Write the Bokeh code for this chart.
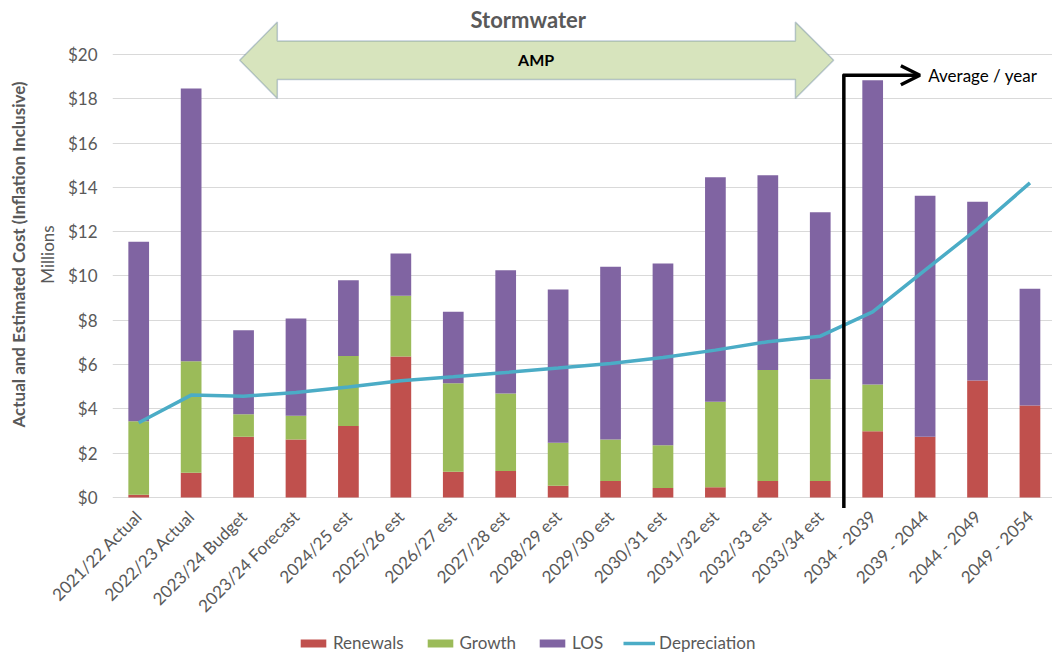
from math import pi
from bokeh.plotting import figure
from bokeh.layouts import column
from bokeh.models import (ColumnDataSource, FixedTicker, NumeralTickFormatter, Legend,
                          LegendItem, Label, Title, PolyAnnotation, Arrow, OpenHead, Range1d)
from bokeh.embed import file_html
from bokeh.resources import INLINE

categories = ["2021/22 Actual", "2022/23 Actual", "2023/24 Budget", "2023/24 Forecast",
              "2024/25 est", "2025/26 est", "2026/27 est", "2027/28 est", "2028/29 est",
              "2029/30 est", "2030/31 est", "2031/32 est", "2032/33 est", "2033/34 est",
              "2034 - 2039", "2039 - 2044", "2044 - 2049", "2049 - 2054"]
renewals = [0.12, 1.11, 2.74, 2.62, 3.22, 6.36, 1.16, 1.19, 0.53, 0.74, 0.42, 0.46, 0.74, 0.74,
            2.99, 2.74, 5.28, 4.15]
growth = [3.32, 5.04, 1.02, 1.07, 3.16, 2.74, 3.99, 3.50, 1.94, 1.88, 1.93, 3.86, 5.01, 4.59,
          2.11, 0.0, 0.0, 0.0]
los = [8.10, 12.31, 3.79, 4.39, 3.43, 1.91, 3.23, 5.57, 6.92, 7.79, 8.21, 10.13, 8.80, 7.54,
       13.74, 10.88, 8.07, 5.27]
depreciation = [3.37, 4.62, 4.57, 4.74, 4.99, 5.27, 5.45, 5.64, 5.84, 6.05, 6.32, 6.65, 7.03,
                7.28, 8.38, 10.26, 12.14, 14.20]
y_ticks = [0, 2, 4, 6, 8, 10, 12, 14, 16, 18, 20]
series = ["Renewals", "Growth", "LOS"]
colors = ["#C0504D", "#9BBB59", "#8064A2"]
line_color = "#4BACC6"

FONT = "Lato"
GREY = "#595959"

xs = list(range(len(categories)))
src = ColumnDataSource(dict(x=xs, Renewals=renewals, Growth=growth, LOS=los, Depreciation=depreciation))

p = figure(width=1052, height=630, x_range=Range1d(-0.5, 17.43), y_range=Range1d(-0.5, 22.435),
           output_backend="svg", toolbar_location=None,
           min_border_top=0, min_border_right=0, min_border_left=112, min_border_bottom=122)
p.outline_line_color = None
p.background_fill_color = "white"

bars = p.vbar_stack(series, x="x", width=0.395, source=src, color=colors, line_color=None)
ln = p.line("x", "Depreciation", source=src, line_color=line_color, line_width=3.5)

# axes
p.xaxis.ticker = FixedTicker(ticks=xs)
p.xaxis.major_label_overrides = {i: c for i, c in enumerate(categories)}
p.xaxis.major_label_orientation = pi / 4
p.xaxis.axis_line_color = None
p.xaxis.major_tick_line_color = None
p.xaxis.minor_tick_line_color = None
p.xaxis.major_tick_out = 0
p.xaxis.major_tick_in = 0
p.xaxis.major_label_text_font = FONT
p.xaxis.major_label_text_font_size = "17px"
p.xaxis.major_label_text_color = GREY
p.xaxis.major_label_standoff = 5

p.yaxis.ticker = FixedTicker(ticks=y_ticks)
p.yaxis.formatter = NumeralTickFormatter(format="$0")
p.yaxis.axis_line_color = None
p.yaxis.major_tick_line_color = None
p.yaxis.minor_tick_line_color = None
p.yaxis.major_tick_out = 0
p.yaxis.major_tick_in = 0
p.yaxis.major_label_text_font = FONT
p.yaxis.major_label_text_font_size = "17px"
p.yaxis.major_label_text_color = GREY
p.yaxis.major_label_standoff = 15
p.yaxis.axis_label = "Millions"
p.yaxis.axis_label_text_font = FONT
p.yaxis.axis_label_text_font_size = "17px"
p.yaxis.axis_label_text_font_style = "normal"
p.yaxis.axis_label_text_color = GREY
p.yaxis.axis_label_standoff = 7

p.add_layout(Title(text="Actual and Estimated Cost (Inflation Inclusive)", align="center",
                   text_font=FONT, text_font_size="17px", text_font_style="bold",
                   text_color=GREY), "left")

p.xgrid.grid_line_color = None
p.ygrid.ticker = FixedTicker(ticks=y_ticks)
p.ygrid.grid_line_color = "#D9D9D9"
p.ygrid.grid_line_width = 1

# AMP double arrow
amp = PolyAnnotation(xs=[1.926, 2.644, 2.644, 12.526, 12.526, 13.256, 12.526, 12.526, 2.644, 2.644],
                     ys=[19.74, 21.46, 20.61, 20.61, 21.46, 19.74, 18.01, 18.87, 18.87, 18.01],
                     fill_color="#D7E4BD", fill_alpha=1.0, line_color="#385D8A", line_width=1.5)
p.add_layout(amp)
p.add_layout(Label(x=7.58, y=19.79, text="AMP", text_align="center", text_baseline="middle",
                   text_font=FONT, text_font_size="16px", text_font_style="bold", text_color="black"))
p.add_layout(Label(x=7.43, y=21.59, text="Stormwater", text_align="center", text_baseline="middle",
                   text_font=FONT, text_font_size="22px", text_font_style="bold", text_color=GREY))

# Average / year marker
p.add_layout(Arrow(end=None, x_start=13.45, y_start=19.1, x_end=13.45, y_end=-0.48,
                   line_color="black", line_width=3.5))
p.add_layout(Arrow(end=OpenHead(size=19, line_width=3.5, line_color="black"),
                   x_start=13.43, y_start=19.06, x_end=14.9, y_end=19.06,
                   line_color="black", line_width=3.5))
p.add_layout(Label(x=15.06, y=19.03, text="Average / year", text_align="left", text_baseline="middle",
                   text_font=FONT, text_font_size="17px", text_color="black"))

# legend strip: same series drawn into a small figure whose ranges keep the marks out of view
lg = figure(width=1052, height=25, x_range=Range1d(-100, -99), y_range=Range1d(-100, -99),
            x_axis_type=None, y_axis_type=None, output_backend="svg", toolbar_location=None,
            min_border=0)
lg.outline_line_color = None
lg.grid.visible = False
sw = lg.vbar_stack(series, x="x", width=0.395, source=src, color=colors, line_color=None)
sl = lg.line("x", "Depreciation", source=src, line_color=line_color, line_width=3.5)
legend = Legend(items=[LegendItem(label=s, renderers=[r]) for s, r in zip(series, sw)]
                + [LegendItem(label="Depreciation", renderers=[sl])],
                orientation="horizontal", location=(185, 2),
                glyph_width=32, glyph_height=10, label_standoff=4, spacing=20,
                padding=0, margin=0, border_line_color=None, background_fill_alpha=0,
                label_text_font=FONT, label_text_font_size="17px", label_text_color=GREY,
                label_height=20)
lg.add_layout(legend)

layout = column(p, lg, spacing=0)
open("out.html", "w").write(file_html(layout, INLINE))
